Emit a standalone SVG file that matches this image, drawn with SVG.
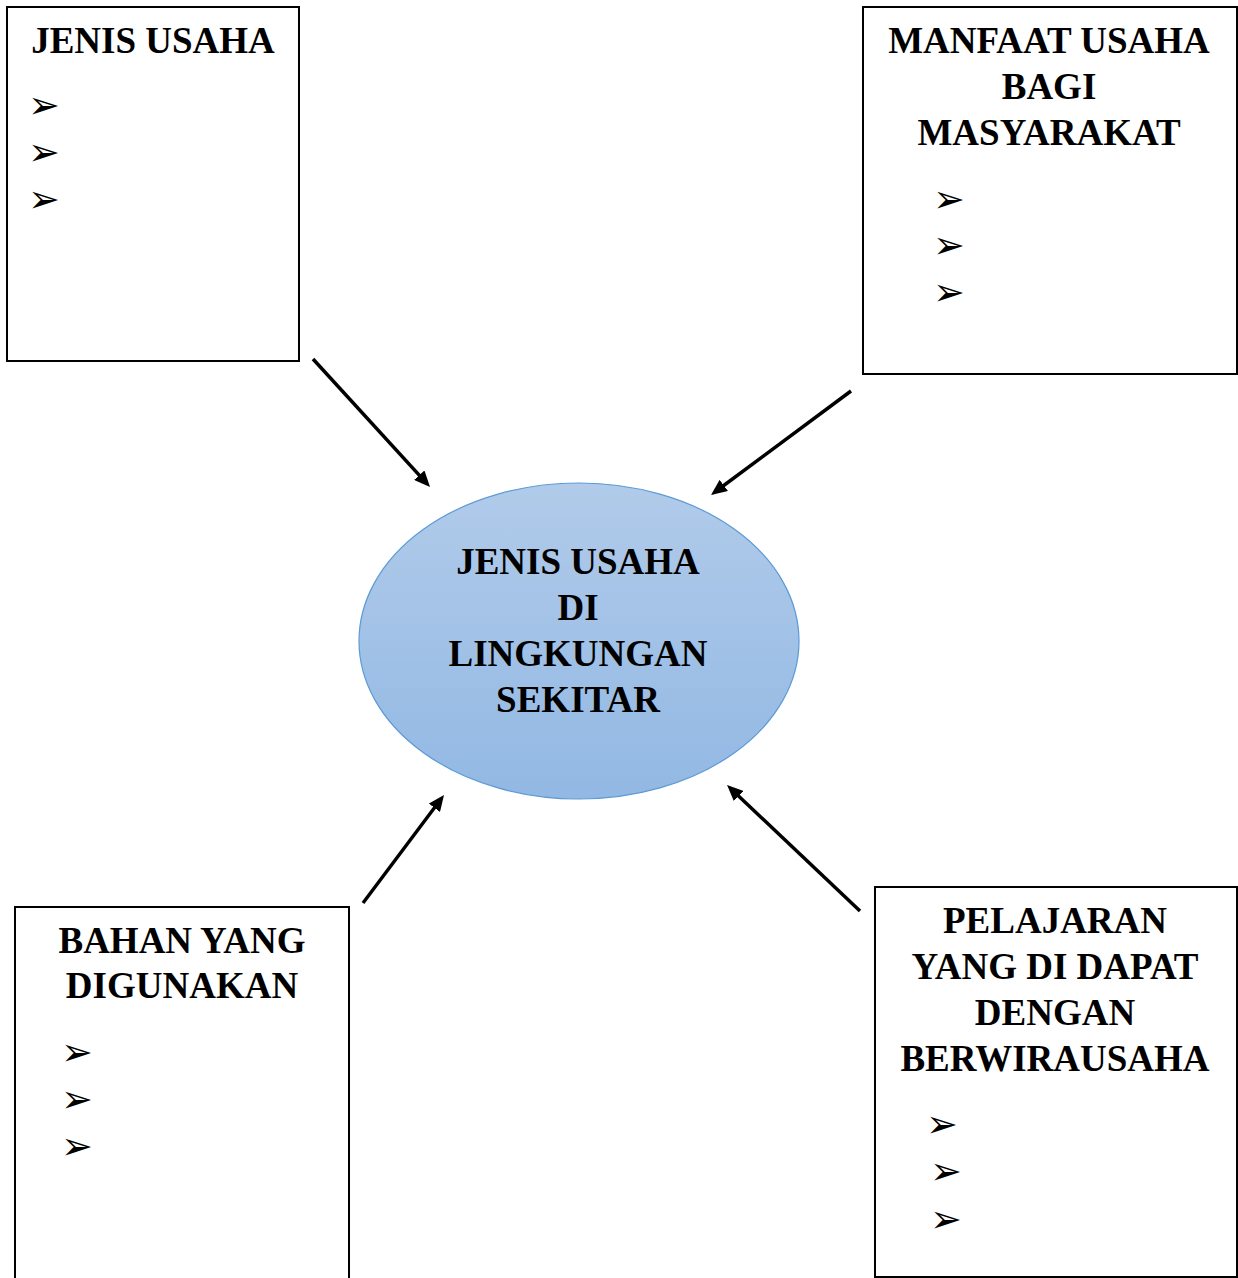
<svg xmlns="http://www.w3.org/2000/svg" width="1238" height="1278" viewBox="0 0 1238 1278">
<defs>
<style>
.box{fill:#fff;stroke:#000;stroke-width:2}
.t{font-family:"Liberation Serif","Times New Roman",serif;font-weight:bold;font-size:37px;fill:#000;text-anchor:middle}
.b{font-family:"DejaVu Sans",sans-serif;font-size:38px;fill:#000}
.c{fill:none;stroke:#000;stroke-width:3.5}
</style>
<linearGradient id="g" x1="0" y1="0" x2="0" y2="1">
<stop offset="0" stop-color="#b1cbea"/>
<stop offset="1" stop-color="#92b8e3"/>
</linearGradient>
<marker id="ah" markerUnits="userSpaceOnUse" markerWidth="16" markerHeight="14" viewBox="0 0 16 14" refX="6" refY="7" orient="auto">
<path d="M0,0 L16,7 L0,14 z" fill="#000"/>
</marker>
</defs>
<rect width="1238" height="1278" fill="#fff"/>

<g id="node-jenis-usaha">
<rect class="box" x="7" y="7" width="292" height="354"/>
<text class="t" x="153" y="53">JENIS USAHA</text>
<text class="b" x="28" y="118">➢</text>
<text class="b" x="28" y="165">➢</text>
<text class="b" x="28" y="212">➢</text>
</g>

<g id="node-manfaat">
<rect class="box" x="863" y="7" width="374" height="367"/>
<text class="t" x="1049" y="53">MANFAAT USAHA</text>
<text class="t" x="1049" y="99">BAGI</text>
<text class="t" x="1049" y="145">MASYARAKAT</text>
<text class="b" x="933" y="212">➢</text>
<text class="b" x="933" y="258">➢</text>
<text class="b" x="933" y="305">➢</text>
</g>

<g id="node-center">
<ellipse cx="579" cy="641" rx="220" ry="158" fill="url(#g)" stroke="#5b9bd5" stroke-width="1.2"/>
<text class="t" x="578" y="574">JENIS USAHA</text>
<text class="t" x="578" y="620">DI</text>
<text class="t" x="578" y="666">LINGKUNGAN</text>
<text class="t" x="578" y="712">SEKITAR</text>
</g>

<g id="node-bahan">
<rect class="box" x="15" y="907" width="334" height="380"/>
<text class="t" x="182" y="953">BAHAN YANG</text>
<text class="t" x="182" y="998">DIGUNAKAN</text>
<text class="b" x="61" y="1065">➢</text>
<text class="b" x="61" y="1112">➢</text>
<text class="b" x="61" y="1159">➢</text>
</g>

<g id="node-pelajaran">
<rect class="box" x="875" y="887" width="362" height="390"/>
<text class="t" x="1055" y="933">PELAJARAN</text>
<text class="t" x="1055" y="979">YANG DI DAPAT</text>
<text class="t" x="1055" y="1025">DENGAN</text>
<text class="t" x="1055" y="1071">BERWIRAUSAHA</text>
<text class="b" x="926" y="1137">➢</text>
<text class="b" x="930" y="1184">➢</text>
<text class="b" x="930" y="1232">➢</text>
</g>

<g id="connectors">
<line class="c" x1="313" y1="359" x2="423.3" y2="479.6" marker-end="url(#ah)"/>
<line class="c" x1="851" y1="391" x2="719" y2="489" marker-end="url(#ah)"/>
<line class="c" x1="363" y1="903" x2="438" y2="803" marker-end="url(#ah)"/>
<line class="c" x1="860" y1="911" x2="734.3" y2="791.9" marker-end="url(#ah)"/>
</g>
</svg>
